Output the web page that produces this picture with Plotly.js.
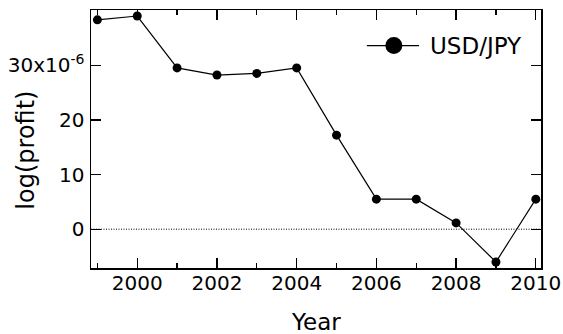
<!DOCTYPE html>
<html><head><meta charset="utf-8">
<script src="https://cdn.plot.ly/plotly-3.0.1.min.js"></script>
<style>html,body{margin:0;padding:0;background:#fff}#chart{width:563px;height:334px}</style>
</head><body><div id="chart"></div>
<script>
const years = [1999, 2000, 2001, 2002, 2003, 2004, 2005, 2006, 2007, 2008, 2009, 2010];
const profit = [38.3e-6, 39.0e-6, 29.5e-6, 28.2e-6, 28.5e-6, 29.5e-6, 17.2e-6, 5.5e-6, 5.5e-6, 1.15e-6, -6.0e-6, 5.5e-6];
const seriesName = 'USD/JPY';
const yTickVals = [0, 10e-6, 20e-6, 30e-6];
const yTickText = ['0', '10', '20', '30x10<sup>-6</sup>'];
const xTickVals = [2000, 2002, 2004, 2006, 2008, 2010];
const xTickText = ['2000', '2002', '2004', '2006', '2008', '2010'];
const xTitle = 'Year';
const yTitle = 'log(profit)';

const FONT = 'DejaVu Sans, sans-serif';

const traces = [
  {
    x: years, y: profit, type: 'scatter', mode: 'lines+markers', name: seriesName,
    line: {color: '#000', width: 1.2},
    marker: {color: '#000', size: 9},
    showlegend: false, hoverinfo: 'skip'
  }
];

const axisCommon = {
  showline: true, linecolor: '#000', linewidth: 1.5, mirror: 'ticks',
  ticks: 'inside', ticklen: 10, tickwidth: 1.3, tickcolor: '#000',
  showgrid: false, zeroline: false,
  tickfont: {family: FONT, size: 20, color: '#000'}
};

const legY = 0.862;
const layout = {
  width: 563, height: 334,
  margin: {l: 91, r: 22, t: 10, b: 66},
  paper_bgcolor: '#fff', plot_bgcolor: '#fff',
  font: {family: FONT, color: '#000'},
  showlegend: false,
  xaxis: Object.assign({}, axisCommon, {
    range: [1998.84, 2010.13],
    tickvals: xTickVals, ticktext: xTickText,
    ticklabelstandoff: -4,
    minor: {dtick: 1, tick0: 1999, ticks: 'inside', ticklen: 5, tickwidth: 1.3, tickcolor: '#000', showgrid: false}
  }),
  yaxis: Object.assign({}, axisCommon, {
    range: [-7.1e-6, 40.1e-6],
    tickvals: yTickVals, ticktext: yTickText,
    ticklabelstandoff: 1
  }),
  shapes: [
    {type: 'line', xref: 'paper', x0: 0, x1: 1, yref: 'y', y0: 0, y1: 0,
     line: {color: '#000', width: 1, dash: '1px,1.5px'}, layer: 'below'},
    {type: 'line', xref: 'paper', yref: 'paper', x0: 0.613, x1: 0.729, y0: legY, y1: legY,
     line: {color: '#000', width: 1.2}},
    {type: 'circle', xref: 'paper', yref: 'paper', xsizemode: 'pixel', ysizemode: 'pixel',
     xanchor: 0.673, yanchor: legY, x0: -8.5, x1: 8.5, y0: -8.5, y1: 8.5,
     fillcolor: '#000', line: {color: '#000', width: 0}}
  ],
  annotations: [
    {text: seriesName, xref: 'paper', yref: 'paper', x: 0.749, y: legY, xanchor: 'left', yanchor: 'middle',
     showarrow: false, font: {family: FONT, size: 23, color: '#000'}},
    {text: xTitle, xref: 'paper', yref: 'paper', x: 0.5, y: -0.209, xanchor: 'center', yanchor: 'middle',
     showarrow: false, font: {family: FONT, size: 23, color: '#000'}},
    {text: yTitle, xref: 'paper', yref: 'paper', x: -0.1444, y: 0.455, xanchor: 'center', yanchor: 'middle',
     textangle: -90, showarrow: false, font: {family: FONT, size: 24, color: '#000'}}
  ]
};

Plotly.newPlot('chart', traces, layout, {displayModeBar: false, staticPlot: true});
</script>
</body></html>
